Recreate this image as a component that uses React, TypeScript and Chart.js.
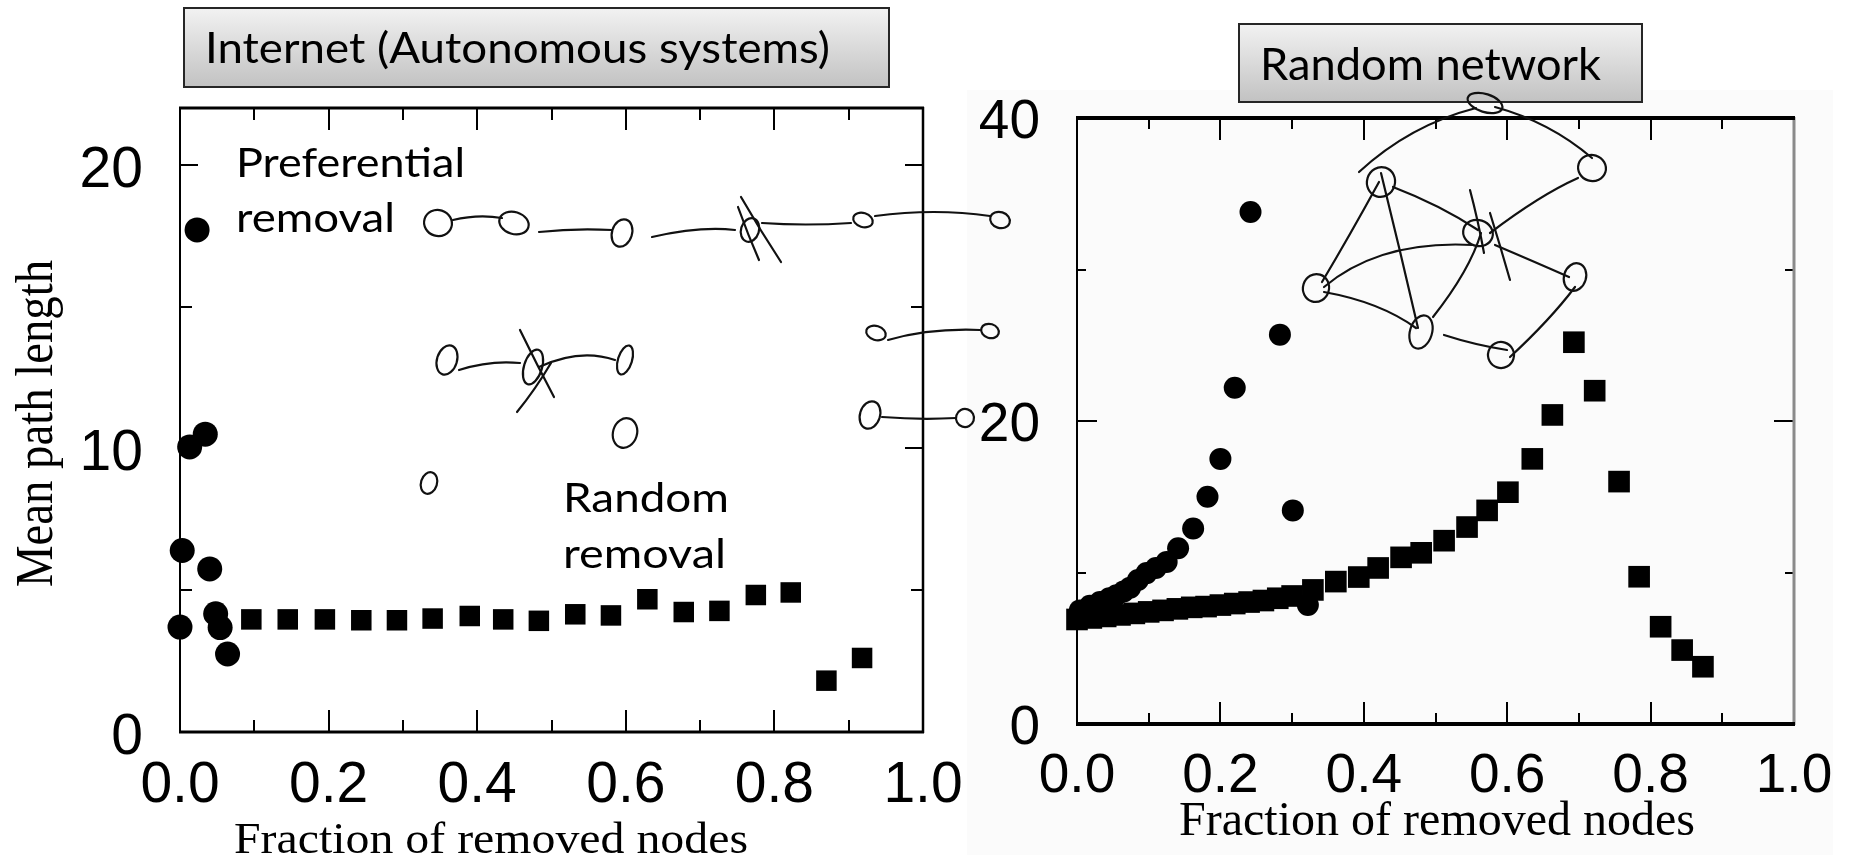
import React, { useEffect, useRef } from "react";
import { Chart, registerables } from "chart.js";

Chart.register(...registerables);

const W = 1853;
const H = 855;

// ---------- Left chart: Internet (Autonomous systems) ----------
const internetTitle = "Internet (Autonomous systems)";
const internetXTicks = [0, 0.2, 0.4, 0.6, 0.8, 1.0];
const internetXTickLabels = ["0.0", "0.2", "0.4", "0.6", "0.8", "1.0"];
const internetYTicks = [0, 10, 20];
const internetYTickLabels = ["0", "10", "20"];
const internetYMinor = [5, 15];
const internetYMax = 22;

const prefRemovalX = [0.0, 0.003, 0.013, 0.034, 0.023, 0.04, 0.048, 0.054, 0.064];
const prefRemovalY = [3.7, 6.4, 10.05, 10.5, 17.7, 5.75, 4.17, 3.68, 2.75];

const randRemovalX = [0.096, 0.145, 0.195, 0.244, 0.292, 0.34, 0.39, 0.435, 0.483, 0.532, 0.58, 0.629, 0.678, 0.726, 0.775, 0.822, 0.87, 0.918];
const randRemovalY = [3.97, 3.97, 3.97, 3.94, 3.94, 4.0, 4.09, 3.97, 3.92, 4.15, 4.11, 4.68, 4.23, 4.27, 4.83, 4.92, 1.81, 2.61];

// ---------- Right chart: Random network ----------
const randomTitle = "Random network";
const randomXTicks = [0, 0.2, 0.4, 0.6, 0.8, 1.0];
const randomXTickLabels = ["0.0", "0.2", "0.4", "0.6", "0.8", "1.0"];
const randomYTicks = [0, 20, 40];
const randomYTickLabels = ["0", "20", "40"];
const randomYMinor = [10, 30];
const randomYMax = 40;

const attackX = [0.004, 0.018, 0.032, 0.045, 0.055, 0.065, 0.074, 0.085, 0.097, 0.11, 0.125, 0.141, 0.162, 0.182, 0.2, 0.22, 0.242, 0.283, 0.301, 0.322];
const attackY = [7.5, 7.8, 8.05, 8.3, 8.5, 8.75, 9.0, 9.5, 9.96, 10.3, 10.7, 11.6, 12.9, 15.0, 17.5, 22.2, 33.8, 25.7, 14.1, 7.85];

const failureX = [0, 0.02, 0.04, 0.06, 0.08, 0.1, 0.12, 0.14, 0.16, 0.18, 0.2, 0.22, 0.24, 0.26, 0.28, 0.3, 0.329, 0.361, 0.393, 0.42, 0.452, 0.48, 0.512, 0.544, 0.572, 0.601, 0.635, 0.663, 0.693, 0.722, 0.756, 0.784, 0.814, 0.844, 0.873];
const failureY = [6.9, 7.0, 7.1, 7.2, 7.3, 7.4, 7.5, 7.6, 7.7, 7.75, 7.85, 7.95, 8.05, 8.15, 8.3, 8.45, 8.85, 9.4, 9.7, 10.3, 11.0, 11.3, 12.1, 13.0, 14.1, 15.3, 17.5, 20.4, 25.2, 22.0, 16.0, 9.72, 6.42, 4.88, 3.78];

const xTitle = "Fraction of removed nodes";
const yTitle = "Mean path length";

// ---------- Hand-drawn annotation strokes (decoration) ----------
const leftLoops = [
  [438, 223, 14, 13], [514, 223, 15, 11], [622, 233, 10, 14], [750, 230, 9, 12],
  [863, 220, 10, 7], [1000, 220, 10, 8], [447, 360, 10, 15], [533, 367, 9, 18],
  [625, 360, 7, 15], [876, 333, 10, 7], [990, 331, 9, 7], [870, 415, 10, 14],
  [965, 418, 9, 9], [625, 433, 12, 15], [429, 483, 8, 11],
];
const leftCurves = [
  [453, 220, 478, 214, 502, 218], [539, 232, 575, 228, 612, 230], [652, 237, 700, 226, 735, 230],
  [738, 207, 748, 235, 759, 260], [741, 197, 760, 230, 781, 262], [762, 223, 805, 226, 851, 223],
  [875, 216, 935, 208, 990, 216], [459, 370, 490, 360, 520, 363], [520, 330, 537, 365, 554, 397],
  [551, 363, 535, 390, 517, 412], [539, 367, 580, 348, 615, 360], [888, 340, 930, 328, 980, 330],
  [882, 417, 920, 420, 956, 418],
];
const rightLoops = [
  [1485, 103, 18, 9], [1381, 182, 14, 15], [1592, 168, 14, 13], [1478, 233, 15, 13],
  [1316, 288, 13, 14], [1575, 277, 11, 14], [1421, 332, 11, 17], [1501, 355, 13, 13],
];
const rightCurves = [
  [1359, 172, 1410, 125, 1476, 108], [1495, 107, 1550, 122, 1592, 158], [1393, 187, 1440, 205, 1478, 230],
  [1495, 245, 1535, 262, 1569, 277], [1578, 178, 1540, 195, 1490, 233], [1379, 182, 1350, 235, 1322, 282],
  [1381, 173, 1400, 250, 1418, 328], [1324, 287, 1380, 240, 1473, 245], [1324, 292, 1380, 302, 1416, 328],
  [1433, 317, 1470, 270, 1481, 233], [1444, 335, 1475, 345, 1507, 350], [1510, 357, 1550, 320, 1575, 287],
  [1470, 190, 1478, 220, 1484, 253], [1490, 213, 1500, 245, 1510, 280],
];

function fitText(ctx: CanvasRenderingContext2D, s: string, x: number, y: number, font: string, width: number | null, align: CanvasTextAlign = "left", rot = 0) {
  ctx.save();
  ctx.font = font;
  const m = ctx.measureText(s).width;
  const sx = width ? width / m : 1;
  ctx.translate(x, y);
  if (rot) ctx.rotate(rot);
  ctx.scale(sx, 1);
  ctx.textAlign = align;
  ctx.textBaseline = "alphabetic";
  ctx.fillStyle = "#000";
  ctx.fillText(s, 0, 0);
  ctx.restore();
}

function titleBox(ctx: CanvasRenderingContext2D, x: number, y: number, w: number, h: number, text: string, tx: number, ty: number, tw: number, fs: number) {
  ctx.save();
  const g = ctx.createLinearGradient(0, y, 0, y + h);
  g.addColorStop(0, "#f2f2f2");
  g.addColorStop(1, "#c2c2c2");
  ctx.fillStyle = g;
  ctx.fillRect(x, y, w, h);
  ctx.strokeStyle = "#262626";
  ctx.lineWidth = 2;
  ctx.strokeRect(x, y, w, h);
  ctx.restore();
  fitText(ctx, text, tx, ty, `${fs}px Lato`, tw);
}

function drawStrokes(ctx: CanvasRenderingContext2D, loops: number[][], curves: number[][]) {
  ctx.save();
  ctx.strokeStyle = "#111";
  ctx.lineWidth = 2.2;
  ctx.lineCap = "round";
  loops.forEach(([cx, cy, rx, ry]) => {
    ctx.beginPath();
    ctx.ellipse(cx, cy, rx, ry, 0.3, 0, Math.PI * 2);
    ctx.stroke();
  });
  curves.forEach(([x1, y1, cx, cy, x2, y2]) => {
    ctx.beginPath();
    ctx.moveTo(x1, y1);
    ctx.quadraticCurveTo(cx, cy, x2, y2);
    ctx.stroke();
  });
  ctx.restore();
}

type FrameSpec = {
  top: number; bottom: number; left: number; right: number; rightColor: string;
  xMajor: number; xMinor: number; yMajor: number; yMinor: number;
  yMajorVals: number[]; yMinorVals: number[];
};

function drawFrame(chart: any, f: FrameSpec) {
  const ctx: CanvasRenderingContext2D = chart.ctx;
  const a = chart.chartArea;
  const xs = chart.scales.x;
  const ys = chart.scales.y;
  ctx.save();
  ctx.strokeStyle = "#000";
  ctx.lineCap = "butt";
  // ticks on x axes (inside, bottom and top)
  ctx.lineWidth = 2;
  for (let i = 1; i <= 9; i++) {
    const v = i / 10;
    const px = Math.round(xs.getPixelForValue(v));
    const len = i % 2 === 0 ? f.xMajor : f.xMinor;
    ctx.beginPath();
    ctx.moveTo(px, a.bottom);
    ctx.lineTo(px, a.bottom - len);
    ctx.moveTo(px, a.top);
    ctx.lineTo(px, a.top + len);
    ctx.stroke();
  }
  const yt = (v: number, len: number) => {
    const py = Math.round(ys.getPixelForValue(v));
    ctx.beginPath();
    ctx.moveTo(a.left, py);
    ctx.lineTo(a.left + len, py);
    ctx.moveTo(a.right, py);
    ctx.lineTo(a.right - len, py);
    ctx.stroke();
  };
  f.yMajorVals.forEach((v) => yt(v, f.yMajor));
  f.yMinorVals.forEach((v) => yt(v, f.yMinor));
  // frame
  const line = (x1: number, y1: number, x2: number, y2: number, w: number, c: string) => {
    ctx.beginPath();
    ctx.lineWidth = w;
    ctx.strokeStyle = c;
    ctx.moveTo(x1, y1);
    ctx.lineTo(x2, y2);
    ctx.stroke();
  };
  line(a.left, a.top - 1, a.left, a.bottom + 1, f.left, "#000");
  line(a.right, a.top - 1, a.right, a.bottom + 1, f.right, f.rightColor);
  line(a.left - 1, a.top, a.right + 1, a.top, f.top, "#000");
  line(a.left - 1, a.bottom, a.right + 1, a.bottom, f.bottom, "#000");
  ctx.restore();
}

const leftPlugin = {
  id: "leftDecor",
  beforeDraw(chart: any) {
    const ctx: CanvasRenderingContext2D = chart.ctx;
    ctx.save();
    ctx.fillStyle = "#ffffff";
    ctx.fillRect(0, 0, W, H);
    ctx.fillStyle = "#fbfbfb";
    ctx.fillRect(967, 90, 866, H - 90);
    ctx.restore();
    titleBox(ctx, 184, 8, 705, 79, internetTitle, 205, 63, 625, 43);
    drawFrame(chart, {
      top: 3, bottom: 3, left: 2, right: 2.5, rightColor: "#000",
      xMajor: 22, xMinor: 12, yMajor: 18, yMinor: 12,
      yMajorVals: [10, 20], yMinorVals: internetYMinor,
    });
    const xs = chart.scales.x;
    const ys = chart.scales.y;
    internetXTicks.forEach((v, i) => fitText(ctx, internetXTickLabels[i], xs.getPixelForValue(v), 802, '57px "Liberation Sans"', null, "center"));
    internetYTicks.forEach((v, i) => fitText(ctx, internetYTickLabels[i], 143, ys.getPixelForValue(v) + 22, '57px "Liberation Sans"', null, "right"));
    fitText(ctx, xTitle, 234, 853, '45px "Liberation Serif"', 514, "left");
    fitText(ctx, yTitle, 52, 587, '52px "Liberation Serif"', 327, "left", -Math.PI / 2);
    fitText(ctx, "Preferential", 236, 177, "41px Lato", 229);
    fitText(ctx, "removal", 236, 232, "41px Lato", 159);
    fitText(ctx, "Random", 563, 512, "41px Lato", 166);
    fitText(ctx, "removal", 563, 568, "41px Lato", 163);
  },
  afterDatasetsDraw(chart: any) {
    drawStrokes(chart.ctx, leftLoops, leftCurves);
  },
};

const rightPlugin = {
  id: "rightDecor",
  beforeDraw(chart: any) {
    const ctx: CanvasRenderingContext2D = chart.ctx;
    titleBox(ctx, 1239, 24, 403, 78, randomTitle, 1260, 80, 341, 44);
    drawFrame(chart, {
      top: 4, bottom: 4, left: 2, right: 3, rightColor: "#8a8a8a",
      xMajor: 22, xMinor: 11, yMajor: 20, yMinor: 9,
      yMajorVals: [20], yMinorVals: randomYMinor,
    });
    const xs = chart.scales.x;
    const ys = chart.scales.y;
    randomXTicks.forEach((v, i) => fitText(ctx, randomXTickLabels[i], xs.getPixelForValue(v), 792, '55px "Liberation Sans"', null, "center"));
    randomYTicks.forEach((v, i) => fitText(ctx, randomYTickLabels[i], 1040, ys.getPixelForValue(v) + 20, '55px "Liberation Sans"', null, "right"));
    fitText(ctx, xTitle, 1179, 835, '48px "Liberation Serif"', 516, "left");
  },
  afterDatasetsDraw(chart: any) {
    drawStrokes(chart.ctx, rightLoops, rightCurves);
  },
};

function pts(xs: number[], ys: number[]) {
  return xs.map((x, i) => ({ x, y: ys[i] }));
}

function makeConfig(datasets: any[], yMax: number, padding: any, plugin: any): any {
  return {
    type: "scatter",
    data: { datasets },
    options: {
      responsive: false,
      animation: false,
      devicePixelRatio: 1,
      events: [],
      layout: { padding },
      plugins: { legend: { display: false }, tooltip: { enabled: false }, title: { display: false } },
      scales: {
        x: { type: "linear", min: 0, max: 1, display: false },
        y: { type: "linear", min: 0, max: yMax, display: false },
      },
    },
    plugins: [plugin],
  };
}

export default function App() {
  const leftRef = useRef<HTMLCanvasElement>(null);
  const rightRef = useRef<HTMLCanvasElement>(null);

  useEffect(() => {
    const left = new Chart(
      leftRef.current as HTMLCanvasElement,
      makeConfig(
        [
          { label: "Preferential removal", data: pts(prefRemovalX, prefRemovalY), pointStyle: "circle", pointRadius: 12.5, backgroundColor: "#000", borderWidth: 0, clip: false },
          { label: "Random removal", data: pts(randRemovalX, randRemovalY), pointStyle: "rect", pointRadius: 14.5, backgroundColor: "#000", borderWidth: 0, clip: false },
        ],
        internetYMax,
        { left: 180, right: W - 923, top: 108, bottom: H - 732 },
        leftPlugin
      )
    );
    const right = new Chart(
      rightRef.current as HTMLCanvasElement,
      makeConfig(
        [
          { label: "Attack", data: pts(attackX, attackY), pointStyle: "circle", pointRadius: 11, backgroundColor: "#000", borderWidth: 0, clip: false },
          { label: "Failure", data: pts(failureX, failureY), pointStyle: "rect", pointRadius: 15.3, backgroundColor: "#000", borderWidth: 0, clip: false },
        ],
        randomYMax,
        { left: 1077, right: W - 1794, top: 118, bottom: H - 724 },
        rightPlugin
      )
    );
    return () => {
      left.destroy();
      right.destroy();
    };
  }, []);

  return (
    <div style={{ position: "fixed", left: 0, top: 0, width: W, height: H, background: "#fff", overflow: "hidden" }}>
      <canvas ref={leftRef} width={W} height={H} style={{ position: "absolute", left: 0, top: 0 }} />
      <canvas ref={rightRef} width={W} height={H} style={{ position: "absolute", left: 0, top: 0 }} />
    </div>
  );
}
